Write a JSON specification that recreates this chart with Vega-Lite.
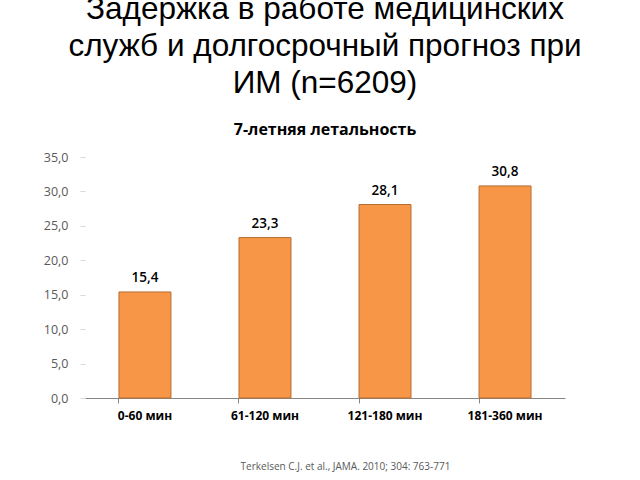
{
  "$schema": "https://vega.github.io/schema/vega-lite/v6.json",
  "width": 480,
  "height": 241,
  "autosize": {"type": "none"},
  "padding": {"left": 85, "top": 157, "right": 75, "bottom": 82},
  "background": "white",
  "title": {
    "text": ["Задержка в работе медицинских", "служб и долгосрочный прогноз при", "ИМ (n=6209)"],
    "subtitle": "7-летняя летальность",
    "anchor": "middle",
    "frame": "group",
    "font": "Liberation Sans",
    "fontSize": 31.5,
    "fontWeight": "normal",
    "lineHeight": 37,
    "color": "#000000",
    "subtitleFont": "Open Sans",
    "subtitleFontSize": 16,
    "subtitleFontWeight": "bold",
    "subtitleColor": "#000000",
    "subtitlePadding": 23,
    "offset": 13
  },
  "data": {
    "values": [
      {"group": "0-60 мин", "value": 15.4},
      {"group": "61-120 мин", "value": 23.3},
      {"group": "121-180 мин", "value": 28.1},
      {"group": "181-360 мин", "value": 30.8}
    ]
  },
  "encoding": {
    "x": {
      "field": "group",
      "type": "nominal",
      "sort": null,
      "scale": {"paddingInner": 0.567, "paddingOuter": 0.283},
      "axis": {
        "title": "Terkelsen C.J. et al., JAMA. 2010; 304: 763-771",
        "titleFont": "Open Sans",
        "titleFontSize": 10,
        "titleFontWeight": "normal",
        "titleColor": "#595959",
        "titleX": 260,
        "titleY": 63,
        "titleAnchor": "middle",
        "labelAngle": 0,
        "labelFont": "Open Sans",
        "labelFontSize": 12,
        "labelFontWeight": "bold",
        "labelColor": "#000000",
        "labelPadding": 7,
        "bandPosition": 0,
        "domainColor": "#868686",
        "tickColor": "#868686",
        "tickSize": 5
      }
    },
    "y": {
      "field": "value",
      "type": "quantitative",
      "scale": {"domain": [0, 35], "nice": false, "zero": true},
      "axis": {
        "title": null,
        "values": [0, 5, 10, 15, 20, 25, 30, 35],
        "format": ".1f",
        "grid": false,
        "domain": false,
        "ticks": true,
        "tickColor": "#d9d9d9",
        "tickSize": 5,
        "labelFont": "Open Sans",
        "labelFontSize": 12.5,
        "labelColor": "#595959",
        "labelPadding": 12
      }
    }
  },
  "layer": [
    {
      "mark": {"type": "bar", "color": "#F79646", "stroke": "#B66D31", "strokeWidth": 1}
    },
    {
      "mark": {"type": "text", "baseline": "bottom", "dy": -7, "font": "Open Sans", "fontSize": 13.5, "fontWeight": 600, "color": "#000000"},
      "encoding": {"text": {"field": "value", "type": "quantitative", "format": ".1f"}}
    }
  ],
  "config": {
    "view": {"stroke": null},
    "locale": {"number": {"decimal": ",", "thousands": " ", "grouping": [3], "currency": ["", " ₽"]}}
  }
}
